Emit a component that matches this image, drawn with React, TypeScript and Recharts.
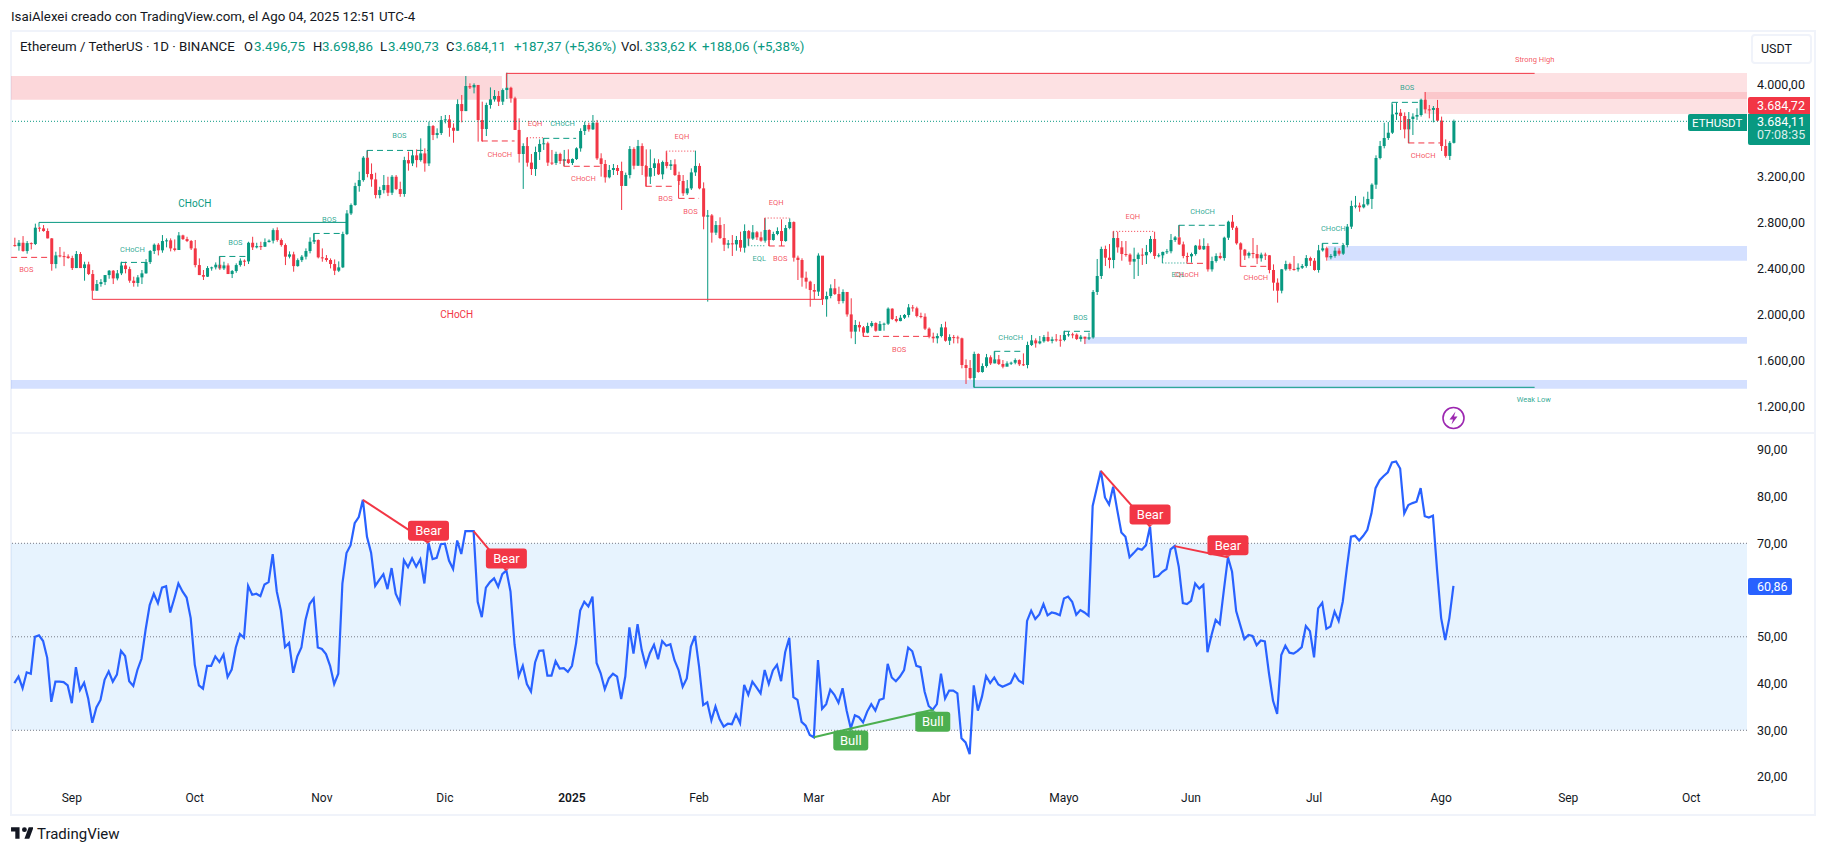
import React from "react";
import {
  ComposedChart,
  Bar,
  Line,
  XAxis,
  YAxis,
  ReferenceArea,
  ReferenceDot,
  ReferenceLine,
} from "recharts";

// one row = ten daily sessions, first session is Aug 17 2024
const closes = [
  2599, 2628, 2556, 2625, 2617, 2759, 2753, 2730, 2666, 2443,
  2518, 2512, 2509, 2495, 2408, 2530, 2408, 2440, 2356, 2211,
  2269, 2286, 2347, 2385, 2318, 2362, 2431, 2399, 2298, 2278,
  2327, 2362, 2460, 2556, 2611, 2562, 2643, 2649, 2579, 2565,
  2692, 2660, 2643, 2579, 2434, 2347, 2333, 2408, 2414, 2437,
  2405, 2431, 2356, 2382, 2434, 2472, 2466, 2628, 2588, 2599,
  2594, 2634, 2646, 2738, 2652, 2608, 2507, 2527, 2425, 2477,
  2507, 2556, 2637, 2652, 2501, 2495, 2478, 2443, 2385, 2414,
  2704, 2883, 2956, 3121, 3173, 3368, 3226, 3179, 3043, 3086,
  3130, 3063, 3202, 3095, 3052, 3347, 3318, 3388, 3347, 3405,
  3318, 3643, 3565, 3582, 3695, 3701, 3628, 3602, 3834, 3773,
  3991, 3979, 4000, 3695, 3617, 3826, 3875, 3904, 3855, 3956,
  3976, 3884, 3609, 3400, 3469, 3325, 3269, 3417, 3487, 3493,
  3325, 3322, 3400, 3339, 3354, 3322, 3356, 3449, 3600, 3652,
  3614, 3672, 3362, 3313, 3197, 3261, 3278, 3252, 3122, 3217,
  3443, 3298, 3469, 3296, 3203, 3278, 3319, 3223, 3330, 3296,
  3310, 3217, 3165, 3058, 3101, 3240, 3296, 3101, 2855, 2866,
  2716, 2782, 2669, 2611, 2623, 2614, 2652, 2585, 2730, 2664,
  2719, 2675, 2646, 2739, 2652, 2704, 2730, 2643, 2756, 2808,
  2498, 2478, 2324, 2290, 2217, 2203, 2516, 2136, 2165, 2232,
  2182, 2121, 2200, 2005, 1855, 1913, 1892, 1846, 1904, 1930,
  1863, 1921, 1924, 2055, 1965, 1947, 1976, 2000, 2066, 2058,
  1991, 1985, 1881, 1811, 1797, 1817, 1892, 1776, 1808, 1805,
  1797, 1565, 1539, 1452, 1661, 1504, 1556, 1632, 1579, 1614,
  1574, 1550, 1579, 1585, 1608, 1571, 1565, 1739, 1779, 1753,
  1771, 1808, 1774, 1788, 1785, 1782, 1826, 1832, 1829, 1791,
  1811, 1794, 1805, 2200, 2339, 2574, 2498, 2478, 2669, 2588,
  2530, 2525, 2464, 2487, 2525, 2519, 2548, 2661, 2513, 2519,
  2548, 2554, 2652, 2675, 2614, 2513, 2510, 2530, 2603, 2571,
  2600, 2397, 2469, 2513, 2495, 2672, 2811, 2759, 2623, 2568,
  2516, 2539, 2530, 2493, 2525, 2519, 2391, 2281, 2211, 2397,
  2443, 2400, 2397, 2411, 2426, 2495, 2472, 2391, 2562, 2580,
  2501, 2513, 2559, 2533, 2608, 2768, 2948, 2951, 2936, 2962,
  3009, 3133, 3365, 3469, 3539, 3585, 3745, 3759, 3730, 3614,
  3704, 3725, 3739, 3872, 3788, 3783, 3800, 3690, 3469, 3383,
  3497, 3684,
];

const highs = [
  2672, 2652, 2686, 2643, 2631, 2794, 2767, 2782, 2753, 2669,
  2550, 2591, 2550, 2527, 2515, 2556, 2547, 2463, 2463, 2391,
  2304, 2312, 2347, 2391, 2391, 2391, 2463, 2463, 2420, 2333,
  2347, 2391, 2486, 2565, 2622, 2625, 2695, 2666, 2666, 2657,
  2721, 2698, 2680, 2652, 2652, 2492, 2391, 2425, 2420, 2457,
  2509, 2463, 2449, 2391, 2449, 2492, 2483, 2637, 2680, 2628,
  2637, 2666, 2657, 2753, 2762, 2666, 2622, 2553, 2550, 2492,
  2521, 2579, 2675, 2709, 2657, 2579, 2521, 2492, 2483, 2466,
  2724, 2912, 2970, 3150, 3246, 3382, 3434, 3318, 3237, 3115,
  3217, 3202, 3217, 3217, 3159, 3376, 3420, 3434, 3440, 3536,
  3449, 3681, 3652, 3623, 3730, 3739, 3739, 3666, 3875, 3913,
  4078, 4014, 4014, 4000, 3855, 3846, 3979, 3956, 3947, 3970,
  4107, 3985, 3898, 3710, 3493, 3545, 3400, 3464, 3527, 3536,
  3507, 3435, 3420, 3411, 3435, 3440, 3362, 3458, 3623, 3681,
  3672, 3739, 3696, 3406, 3348, 3304, 3313, 3304, 3333, 3238,
  3469, 3458, 3522, 3493, 3440, 3440, 3362, 3354, 3342, 3414,
  3348, 3354, 3246, 3217, 3174, 3275, 3429, 3319, 3153, 2913,
  2878, 2817, 2849, 2791, 2652, 2695, 2687, 2724, 2788, 2739,
  2782, 2730, 2724, 2840, 2745, 2724, 2762, 2832, 2782, 2840,
  2814, 2516, 2493, 2377, 2298, 2269, 2536, 2513, 2203, 2266,
  2313, 2246, 2223, 2200, 2145, 1956, 1942, 1904, 1933, 1947,
  1936, 1947, 1933, 2066, 2058, 1991, 2000, 2008, 2095, 2087,
  2072, 2020, 2014, 1892, 1846, 1840, 1921, 1942, 1832, 1826,
  1820, 1803, 1614, 1608, 1681, 1666, 1579, 1661, 1649, 1681,
  1652, 1608, 1597, 1594, 1623, 1614, 1666, 1768, 1826, 1797,
  1817, 1826, 1855, 1811, 1834, 1826, 1863, 1855, 1846, 1840,
  1826, 1811, 1846, 2217, 2487, 2594, 2603, 2617, 2724, 2724,
  2643, 2643, 2536, 2585, 2542, 2580, 2609, 2687, 2724, 2536,
  2551, 2574, 2704, 2687, 2782, 2638, 2542, 2542, 2609, 2658,
  2667, 2623, 2507, 2536, 2542, 2681, 2820, 2869, 2774, 2632,
  2574, 2551, 2669, 2609, 2542, 2542, 2521, 2440, 2318, 2400,
  2472, 2455, 2513, 2449, 2443, 2521, 2507, 2495, 2609, 2623,
  2594, 2530, 2588, 2580, 2623, 2791, 2994, 3035, 2977, 3029,
  3072, 3145, 3388, 3513, 3672, 3678, 3832, 3846, 3791, 3762,
  3765, 3754, 3797, 3881, 3939, 3826, 3817, 3870, 3725, 3527,
  3513, 3699,
];

const lows = [
  2594, 2559, 2550, 2533, 2570, 2608, 2724, 2724, 2666, 2385,
  2405, 2501, 2425, 2489, 2391, 2408, 2408, 2298, 2347, 2211,
  2211, 2246, 2260, 2315, 2269, 2301, 2347, 2362, 2280, 2246,
  2246, 2269, 2359, 2443, 2530, 2518, 2541, 2588, 2553, 2553,
  2617, 2652, 2634, 2565, 2414, 2347, 2304, 2330, 2385, 2396,
  2391, 2391, 2356, 2321, 2367, 2420, 2425, 2443, 2565, 2579,
  2565, 2591, 2631, 2622, 2637, 2594, 2434, 2492, 2376, 2420,
  2460, 2483, 2536, 2617, 2492, 2463, 2463, 2405, 2347, 2373,
  2408, 2695, 2869, 2950, 3072, 3159, 3197, 3115, 3014, 3014,
  3057, 3034, 3043, 3086, 3028, 3028, 3255, 3295, 3283, 3333,
  3246, 3295, 3521, 3536, 3565, 3666, 3550, 3498, 3602, 3675,
  3773, 3965, 3927, 3507, 3507, 3556, 3794, 3855, 3817, 3826,
  3878, 3846, 3609, 3325, 3096, 3290, 3217, 3209, 3348, 3435,
  3296, 3304, 3304, 3313, 3296, 3313, 3304, 3348, 3420, 3565,
  3594, 3609, 3348, 3203, 3151, 3188, 3217, 3217, 2913, 3122,
  3188, 3267, 3296, 3217, 3116, 3139, 3209, 3217, 3180, 3275,
  3261, 3209, 3130, 3035, 3043, 3087, 3209, 3093, 2745, 2116,
  2629, 2695, 2661, 2556, 2579, 2513, 2559, 2550, 2542, 2608,
  2652, 2652, 2637, 2629, 2600, 2646, 2693, 2600, 2637, 2745,
  2464, 2304, 2246, 2229, 2072, 2136, 2165, 2087, 1985, 2145,
  2174, 2095, 2101, 1985, 1797, 1747, 1855, 1811, 1840, 1892,
  1855, 1863, 1863, 1913, 1956, 1936, 1945, 1965, 1979, 2029,
  1979, 1971, 1869, 1797, 1759, 1753, 1805, 1768, 1739, 1753,
  1753, 1536, 1400, 1440, 1370, 1498, 1498, 1542, 1565, 1579,
  1565, 1536, 1556, 1565, 1571, 1556, 1556, 1536, 1730, 1716,
  1745, 1759, 1765, 1753, 1768, 1724, 1771, 1811, 1797, 1782,
  1768, 1747, 1782, 1794, 2174, 2313, 2426, 2406, 2406, 2542,
  2472, 2507, 2435, 2313, 2339, 2435, 2443, 2536, 2487, 2501,
  2493, 2530, 2536, 2635, 2609, 2493, 2464, 2455, 2516, 2565,
  2565, 2377, 2377, 2455, 2484, 2472, 2652, 2739, 2611, 2423,
  2478, 2493, 2493, 2443, 2464, 2478, 2362, 2211, 2107, 2188,
  2385, 2385, 2385, 2377, 2400, 2411, 2426, 2385, 2368, 2551,
  2472, 2484, 2498, 2516, 2522, 2588, 2748, 2927, 2898, 2927,
  2951, 2922, 3096, 3353, 3449, 3522, 3574, 3696, 3609, 3536,
  3493, 3565, 3696, 3725, 3754, 3710, 3675, 3681, 3426, 3368,
  3348, 3491,
];

const rsi = [
  40.1, 41.5, 39.0, 42.4, 42.1, 50.0, 50.3, 49.1, 45.5, 36.1,
  40.4, 40.4, 40.3, 39.6, 35.8, 43.5, 38.6, 40.2, 36.8, 31.6,
  34.9, 36.5, 40.8, 42.6, 40.4, 41.9, 47.0, 45.9, 40.5, 39.5,
  42.9, 45.3, 51.5, 56.8, 59.2, 57.2, 60.5, 60.8, 55.2, 58.2,
  61.4, 59.7, 58.4, 54.0, 44.0, 39.6, 38.9, 43.8, 43.8, 45.8,
  44.6, 46.2, 41.4, 43.0, 47.7, 50.6, 49.8, 60.9, 59.0, 59.2,
  58.7, 61.2, 61.7, 67.7, 59.7, 55.6, 47.8, 48.7, 42.3, 45.8,
  47.7, 53.6, 57.0, 58.2, 47.7, 47.4, 46.3, 43.8, 39.9, 42.1,
  61.4, 67.9, 69.6, 74.3, 75.6, 79.3, 71.4, 68.0, 60.9, 62.2,
  63.4, 60.2, 64.7, 59.2, 57.3, 66.4, 64.9, 66.8, 65.0, 66.6,
  61.4, 70.1, 66.6, 66.9, 69.8, 69.9, 66.3, 64.5, 70.6, 67.7,
  72.6, 72.6, 72.6, 57.5, 54.2, 60.5, 61.7, 62.5, 60.7, 63.4,
  64.2, 59.7, 48.3, 41.6, 43.8, 39.9, 38.3, 44.5, 47.0, 47.1,
  41.7, 41.7, 44.8, 43.2, 43.3, 42.5, 43.8, 48.6, 55.6, 57.5,
  56.5, 58.6, 44.4, 42.2, 38.8, 41.1, 42.1, 41.5, 36.7, 41.5,
  52.0, 46.4, 52.7, 47.2, 43.8, 46.5, 48.3, 45.2, 49.1, 48.1,
  48.4, 45.0, 42.9, 39.3, 41.1, 47.9, 50.2, 43.6, 35.4, 36.0,
  32.1, 35.1, 32.4, 30.8, 31.4, 31.3, 33.4, 31.5, 39.7, 37.6,
  40.4, 39.2, 37.9, 42.9, 39.9, 42.8, 44.0, 40.5, 46.7, 49.8,
  37.1, 36.5, 31.8, 31.0, 29.0, 28.5, 45.0, 34.6, 35.6, 38.7,
  37.6, 35.9, 39.0, 34.2, 30.4, 33.2, 32.8, 31.7, 34.0, 35.6,
  34.2, 36.5, 36.8, 44.2, 41.3, 40.5, 41.5, 42.9, 47.7, 46.9,
  43.8, 43.5, 38.3, 35.2, 34.4, 35.6, 42.1, 36.8, 38.5, 38.5,
  37.9, 28.3, 27.4, 24.9, 39.6, 34.2, 37.2, 41.6, 40.1, 41.3,
  39.8, 39.3, 39.7, 40.1, 42.0, 40.6, 40.1, 53.4, 55.6, 53.8,
  54.8, 57.0, 54.6, 55.2, 55.0, 54.6, 58.2, 58.6, 57.5, 54.7,
  55.7, 55.2, 54.5, 78.0, 81.8, 85.5, 79.8, 78.3, 82.1, 77.1,
  72.3, 71.4, 67.0, 67.9, 68.9, 68.6, 69.6, 73.6, 62.8, 63.0,
  63.9, 64.5, 68.7, 69.4, 65.0, 57.2, 57.0, 57.7, 61.4, 60.3,
  61.1, 46.7, 50.4, 53.6, 52.7, 60.0, 67.0, 63.9, 55.5, 52.5,
  49.5, 50.4, 50.2, 48.2, 49.2, 49.0, 42.2, 36.3, 33.5, 46.1,
  48.1, 46.6, 46.4, 47.0, 47.8, 52.3, 51.2, 45.6, 56.1, 57.3,
  51.7, 52.2, 55.4, 53.4, 57.5, 64.7, 71.4, 71.6, 70.6, 71.6,
  72.9, 76.4, 81.8, 83.5, 84.4, 85.2, 87.3, 87.5, 86.0, 76.4,
  78.2, 78.6, 78.9, 81.8, 75.8, 75.5, 75.9, 64.3, 54.0, 49.3,
  54.0, 60.9,
];

const firstOpen = 2608;
const lastOpen = 3496.75;
const lastPrice = 3684.11;

// the last price tag sits where 3.600,00 and 60,00 would be
const priceTicks = [1200, 1600, 2000, 2400, 2800, 3200, 4000];
const rsiTicks = [20, 30, 40, 50, 70, 80, 90];
const rsiBands = [70, 50, 30];

// session index of each month label on the time axis
const monthTicks = [14, 44, 75, 105, 136, 167, 195, 226, 256, 287, 317, 348, 379, 409];
const monthNames = ["Sep", "Oct", "Nov", "Dic", "2025", "Feb", "Mar", "Abr", "Mayo", "Jun", "Jul", "Ago", "Sep", "Oct"];

// supply / demand zones: [from session, to session, low, high]
const X_MIN = -0.83;
const X_MAX = 422.6;
const oldSupply = [[X_MIN, 118.9, 3872, 4078]];
const supplyZones = [
  [120.1, X_MAX, 3878, 4104],
  [343.8, X_MAX, 3748, 3939],
];
const demandZones = [
  [X_MIN, X_MAX, 1359, 1435],
  [260.9, X_MAX, 1750, 1809],
  [320.4, X_MAX, 2472, 2600],
];

// structure lines: [from session, to session, level, level the start tick reaches]
const solidGreen = [[6, 81, 2805, 2767], [234, 370.8, 1371, 1452]];
const solidRed = [[19, 197, 2136, 2211], [120, 370.8, 4101, 3976]];
const dashedGreen = [
  [26, 32, 2457, 2431], [50, 57, 2509, 2405], [73, 80, 2709, 2652], [86, 101, 3431, 3368],
  [129, 137, 3536, 3493], [239, 246, 1684, 1614], [256, 263, 1858, 1826], [284, 296, 2780, 2680],
  [319, 324, 2623, 2580], [336, 343, 3849, 3745],
];
const dashedRed = [
  [-0.8, 9, 2501, 2501], [114, 122, 3513, 3617], [134, 143, 3293, 3354], [154, 161, 3119, 3304],
  [162, 167, 3014, 3165], [184, 188, 2600, 2739], [207, 223, 1814, 1892], [286, 291, 2449, 2510],
  [299, 306, 2423, 2568], [340, 348, 3496, 3704],
];
const dottedRed = [[125, 129, 3541, 3325], [159, 166, 3425, 3330], [183, 189, 2843, 2739], [268, 278, 2727, 2669]];
const dottedGreen = [[179, 183, 2602, 2664], [280, 286, 2452, 2548]];

// structure labels: [text, session, level]
const greenLabels: [string, number, number][] = [
  ["CHoCH", 28.8, 2573], ["BOS", 53.9, 2634], ["BOS", 76.8, 2834], ["BOS", 93.9, 3565],
  ["CHoCH", 133.7, 3669], ["EQL", 181.7, 2495], ["CHoCH", 243, 1800], ["BOS", 260, 1982],
  ["CHoCH", 289.8, 2904], ["EQL", 283.9, 2356], ["CHoCH", 321.7, 2748], ["BOS", 339.7, 3974],
  ["Weak Low", 370.6, 1269],
];
const redLabels: [string, number, number][] = [
  ["BOS", 2.9, 2399], ["CHoCH", 118.4, 3397], ["EQH", 127, 3669], ["CHoCH", 138.8, 3191],
  ["EQH", 162.8, 3556], ["BOS", 158.8, 3017], ["BOS", 164.9, 2904], ["EQH", 185.8, 2974],
  ["BOS", 186.8, 2495], ["BOS", 215.8, 1704], ["EQH", 272.8, 2852], ["CHoCH", 285.9, 2348],
  ["CHoCH", 302.8, 2322], ["CHoCH", 343.6, 3391], ["Strong High", 370.8, 4223],
];
const bigGreenLabels: [string, number, number][] = [["CHoCH", 44, 2973]];
const bigRedLabels: [string, number, number][] = [["CHoCH", 107.9, 2008]];

// rsi divergences: [from session, from rsi, to session, to rsi]
const bearDivergences = [[85, 79.3, 101, 70.1], [112, 72.6, 120, 64.2], [265, 85.5, 277, 73.6], [283, 69.4, 296, 67.0]];
const bullDivergences = [[195, 28.5, 204, 30.4], [204, 30.4, 224, 34.4]];

const candles = closes.map((close, i) => ({
  i,
  open: i === 0 ? firstOpen : i === closes.length - 1 ? lastOpen : closes[i - 1],
  close,
  high: highs[i],
  low: lows[i],
  range: [lows[i], highs[i]],
}));
const rsiRows = rsi.map((value, i) => ({ i, value }));

const GREEN = "#089981";
const RED = "#f23645";
const BLUE = "#2962ff";
const INK = "#131722";
const FONT = "Roboto, sans-serif";
const W = 1803;

const Candle = (props: any) => {
  const { x, y, width, height, payload } = props;
  const perPrice = height / (payload.high - payload.low);
  const top = y + (payload.high - Math.max(payload.open, payload.close)) * perPrice;
  const h = Math.max(1, Math.abs(payload.open - payload.close) * perPrice);
  const color = payload.close >= payload.open ? GREEN : RED;
  const mid = x + width / 2;
  return (
    <g>
      <line x1={mid} x2={mid} y1={y} y2={y + height} stroke={color} strokeWidth={1} />
      <rect x={x} y={top} width={width} height={h} fill={color} />
    </g>
  );
};

const structure = (rows: number[][], color: string, dash?: string) =>
  rows.flatMap(([from, to, level, tick], n) => [
    <ReferenceLine
      key={`${color}${dash}l${n}`}
      segment={[{ x: from, y: level }, { x: to, y: level }]}
      stroke={color}
      strokeWidth={1}
      strokeDasharray={dash}
    />,
    <ReferenceLine
      key={`${color}${dash}t${n}`}
      segment={[{ x: from, y: level }, { x: from, y: tick }]}
      stroke={color}
      strokeWidth={1}
    />,
  ]);

const zones = (rows: number[][], fill: string, opacity: number) =>
  rows.map(([from, to, low, high], n) => (
    <ReferenceArea key={`${fill}${opacity}${n}`} x1={from} x2={to} y1={low} y2={high} fill={fill} fillOpacity={opacity} stroke="none" />
  ));

const labels = (rows: [string, number, number][], color: string, size: number, opacity: number) =>
  rows.map(([text, x, y], n) => (
    <ReferenceDot
      key={`${text}${color}${n}`}
      x={x}
      y={y}
      r={0}
      shape={(p: any) => (
        <text x={p.cx} y={p.cy} textAnchor="middle" dominantBaseline="central" fontSize={size} fontFamily={FONT} fill={color} fillOpacity={opacity}>
          {text}
        </text>
      )}
    />
  ));

const divergenceTag = (text: string, x: number, y: number, fill: string, above: boolean, w: number) => (
  <ReferenceDot
    key={`${text}${x}`}
    x={x}
    y={y}
    r={0}
    shape={(p: any) => {
      const top = above ? p.cy - 22 : p.cy + 2;
      const edge = above ? top + 20 : top;
      return (
        <g>
          <path d={`M${p.cx - 3} ${edge}L${p.cx} ${p.cy}L${p.cx + 3} ${edge}Z`} fill={fill} />
          <rect x={p.cx - w / 2} y={top} width={w} height={20} rx={3} fill={fill} />
          <text x={p.cx} y={top + 10} textAnchor="middle" dominantBaseline="central" fill="#fff" fontSize={13} fontFamily={FONT}>
            {text}
          </text>
        </g>
      );
    }}
  />
);

const MonthTick = (props: any) => {
  const { x, y, payload } = props;
  const name = monthNames[monthTicks.indexOf(payload.value)];
  return (
    <text x={x} y={y} textAnchor="middle" dominantBaseline="central" fontSize={12} fontFamily={FONT} fontWeight={name === "2025" ? 600 : 400} fill={INK}>
      {name}
    </text>
  );
};

const put = (left: number, top: number, text: string, color: string, size = 13, extra: any = {}) => (
  <span
    style={{ position: "absolute", left, top: top - 9, lineHeight: "18px", fontSize: size, fontFamily: FONT, color, whiteSpace: "nowrap", ...extra }}
  >
    {text}
  </span>
);

const box = (left: number, top: number, width: number, height: number, background: string, extra: any = {}) => (
  <div style={{ position: "absolute", left, top, width, height, background, ...extra }} />
);

const App = () => (
  <div style={{ position: "absolute", left: 0, top: 0, width: 1826, height: 853, background: "#fff", overflow: "hidden" }}>
    {put(11, 17, "IsaiAlexei creado con TradingView.com, el Ago 04, 2025 12:51 UTC-4", INK, 13.3)}

    <div style={{ position: "absolute", left: 10, top: 30, width: 1802, height: 782, border: "2px solid #f0f3fa" }} />
    {box(11, 432, 1803, 2, "#f0f3fa")}

    <div style={{ position: "absolute", left: 11, top: 32 }}>
      <ComposedChart width={W} height={400} data={candles} margin={{ top: 0, right: 0, bottom: 0, left: 0 }}>
        <XAxis dataKey="i" type="number" domain={[X_MIN, X_MAX]} hide allowDataOverflow />
        <YAxis
          orientation="right"
          width={67}
          domain={[4739 - 8.696 * 432, 4739 - 8.696 * 32]}
          ticks={priceTicks}
          interval={0}
          allowDataOverflow
          axisLine={false}
          tickLine={false}
          tickSize={0}
          tickMargin={10}
          tick={{ fontSize: 12.5, fontFamily: FONT, fill: INK }}
          tickFormatter={(v: number) => v.toLocaleString("de-DE", { minimumFractionDigits: 2 })}
        />
        {zones(oldSupply, RED, 0.2)}
        {zones(supplyZones, RED, 0.15)}
        {zones(demandZones, BLUE, 0.2)}
        <ReferenceLine y={lastPrice} stroke={GREEN} strokeDasharray="1 2" strokeWidth={1} />
        <Bar dataKey="range" barSize={3} shape={Candle} isAnimationActive={false} />
        {structure(solidGreen, GREEN)}
        {structure(solidRed, RED)}
        {structure(dashedGreen, GREEN, "6 4")}
        {structure(dashedRed, RED, "6 4")}
        {structure(dottedRed, RED, "1 2")}
        {structure(dottedGreen, GREEN, "1 2")}
        {labels(greenLabels, GREEN, 7.5, 0.85)}
        {labels(redLabels, RED, 7.5, 0.85)}
        {labels(bigGreenLabels, GREEN, 10, 1)}
        {labels(bigRedLabels, RED, 10, 1)}
      </ComposedChart>
    </div>

    <div style={{ position: "absolute", left: 11, top: 434 }}>
      <ComposedChart width={W} height={378} data={rsiRows} margin={{ top: 0, right: 0, bottom: 0, left: 0 }}>
        <XAxis
          dataKey="i"
          type="number"
          domain={[X_MIN, X_MAX]}
          ticks={monthTicks}
          interval={0}
          height={25}
          allowDataOverflow
          axisLine={false}
          tickLine={false}
          tickSize={0}
          tickMargin={11}
          tick={MonthTick}
        />
        <YAxis
          orientation="right"
          width={67}
          domain={[17.87, 93.38]}
          ticks={rsiTicks}
          interval={0}
          allowDataOverflow
          axisLine={false}
          tickLine={false}
          tickSize={0}
          tickMargin={10}
          tick={{ fontSize: 12.5, fontFamily: FONT, fill: INK }}
          tickFormatter={(v: number) => v.toFixed(2).replace(".", ",")}
        />
        <ReferenceArea y1={30} y2={70} fill="#2196f3" fillOpacity={0.11} stroke="none" />
        {rsiBands.map((v) => (
          <ReferenceLine key={v} y={v} stroke="#787b86" strokeDasharray="1 2" strokeWidth={1} />
        ))}
        <Line dataKey="value" stroke={BLUE} strokeWidth={2.2} dot={false} isAnimationActive={false} />
        {bearDivergences.map(([x1, y1, x2, y2]) => (
          <ReferenceLine key={x1} segment={[{ x: x1, y: y1 }, { x: x2, y: y2 }]} stroke={RED} strokeWidth={2} />
        ))}
        {bullDivergences.map(([x1, y1, x2, y2]) => (
          <ReferenceLine key={x1} segment={[{ x: x1, y: y1 }, { x: x2, y: y2 }]} stroke="#4caf50" strokeWidth={2} />
        ))}
        {bearDivergences.map(([, , x2, y2]) => divergenceTag("Bear", x2, y2, RED, true, 41))}
        {bullDivergences.map(([, , x2, y2]) => divergenceTag("Bull", x2, y2, "#4caf50", false, 35))}
      </ComposedChart>
    </div>

    {put(20, 47, "Ethereum / TetherUS · 1D · BINANCE", INK, 13.3)}
    {put(244, 47, "O", INK)}
    {put(254, 47, "3.496,75", GREEN, 13.3)}
    {put(313, 47, "H", INK)}
    {put(322, 47, "3.698,86", GREEN, 13.3)}
    {put(380, 47, "L", INK)}
    {put(388, 47, "3.490,73", GREEN, 13.3)}
    {put(446, 47, "C", INK)}
    {put(455, 47, "3.684,11", GREEN, 13.3)}
    {put(514, 47, "+187,37 (+5,36%)", GREEN, 13.3)}
    {put(621, 47, "Vol.", INK)}
    {put(645, 47, "333,62 K", GREEN, 13.3)}
    {put(702, 47, "+188,06 (+5,38%)", GREEN, 13.3)}

    <div style={{ position: "absolute", left: 1751, top: 34, width: 57, height: 26, border: "2px solid #f0f3fa", borderRadius: 4, background: "#fff" }} />
    {put(1761, 49, "USDT", INK, 12.5)}

    {box(1748, 97, 62, 17, RED, { borderRadius: "2px 0 0 2px" })}
    {put(1757, 105.5, "3.684,72", "#fff", 12.5)}
    {box(1748, 114, 62, 31, GREEN, { borderRadius: "0 0 0 2px" })}
    {put(1757, 122, "3.684,11", "#fff", 12.5)}
    {put(1757, 135, "07:08:35", "#fff", 12.5, { opacity: 0.85 })}
    {box(1688, 114, 59, 17, GREEN, { borderRadius: "2px 0 0 2px" })}
    {put(1692, 122.5, "ETHUSDT", "#fff", 11.5)}
    {box(1748, 578, 44, 17, BLUE, { borderRadius: "2px" })}
    {put(1757, 586.5, "60,86", "#fff", 12.5)}

    <svg style={{ position: "absolute", left: 1441, top: 406 }} width={25} height={25} viewBox="0 0 25 25">
      <circle cx={12.5} cy={12} r={10.5} fill="#fff" stroke="#9c27b0" strokeWidth={1.6} />
      <path d="M14.5 5.5 L8.5 13.5 H12 L10.5 18.5 L16.5 10.5 H13 Z" fill="#9c27b0" />
    </svg>

    <svg style={{ position: "absolute", left: 11, top: 826 }} width={22} height={14} viewBox="0 0 36 23">
      <path d="M14 2H0v7h7v12h7V2zm16 19h-8l7-19h8l-7 19zm-8-11a4 4 0 1 0 0-8 4 4 0 0 0 0 8z" fill={INK} />
    </svg>
    {put(37, 834, "TradingView", INK, 15)}
  </div>
);

export default App;
